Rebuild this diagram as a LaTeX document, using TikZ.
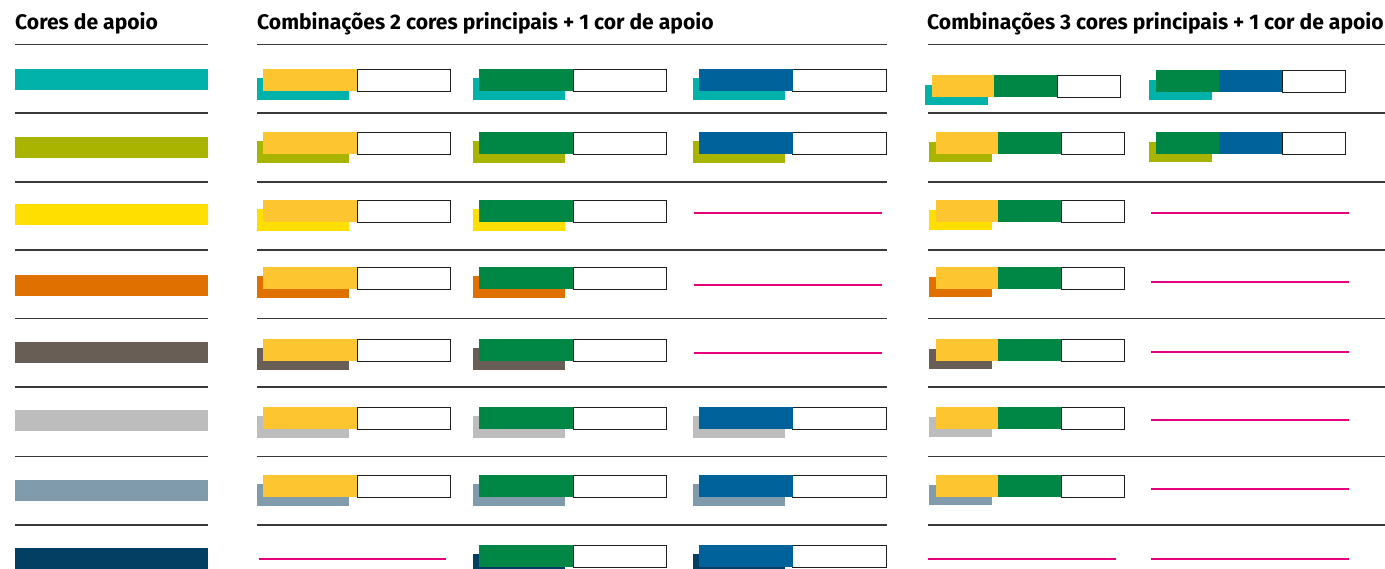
\documentclass[tikz,border=0pt]{standalone}
\usepackage{fontspec}
\setmainfont{Fira Sans}
\definecolor{cteal}{HTML}{00B2A9}
\definecolor{colive}{HTML}{A8B400}
\definecolor{cyel}{HTML}{FFDF00}
\definecolor{corange}{HTML}{E07000}
\definecolor{cbrown}{HTML}{685E55}
\definecolor{clgrey}{HTML}{BDBDBD}
\definecolor{cgblue}{HTML}{7F9BAC}
\definecolor{cnavy}{HTML}{023F63}
\definecolor{cgold}{HTML}{FDC530}
\definecolor{cgreen}{HTML}{008745}
\definecolor{cblue}{HTML}{00629B}
\definecolor{cpink}{HTML}{E6007E}
\definecolor{crule}{HTML}{3A3A3A}
\definecolor{cbox}{HTML}{1E1E1E}
\newcommand\midgrp[4]{%
  \fill[#4] ({#1-6},{#2+8.5}) rectangle ({#1+86},{#2+30.5});
  \draw[wbox] ({#1+94},{#2}) rectangle ({#1+187.5},{#2+22});
  \fill[#3] (#1,#2) rectangle ({#1+94},{#2+22});
}
\newcommand\rgtD[3]{%
  \fill[#3] ({#1-7},{#2+9.5}) rectangle ({#1+56},{#2+30});
  \draw[wbox] ({#1+125},{#2}) rectangle ({#1+188},{#2+22});
  \fill[cgold] (#1,#2) rectangle ({#1+62},{#2+22});
  \fill[cgreen] ({#1+62},#2) rectangle ({#1+125},{#2+22});
}
\newcommand\rgtE[3]{%
  \fill[#3] ({#1-7},{#2+10}) rectangle ({#1+56},{#2+30});
  \draw[wbox] ({#1+126},{#2}) rectangle ({#1+189},{#2+22});
  \fill[cgreen] (#1,#2) rectangle ({#1+63},{#2+22});
  \fill[cblue] ({#1+63},#2) rectangle ({#1+126},{#2+22});
}
\begin{document}
\begin{tikzpicture}[x=1pt,y=-1pt,
  rulel/.style={draw=crule,line width=1.2pt},
  wbox/.style={draw=cbox,fill=white,line width=0.9pt},
  pinkl/.style={draw=cpink,line width=1.5pt},
  head/.style={font=\bfseries\fontsize{21.1}{25}\selectfont,anchor=base west,inner sep=0pt}]
\useasboundingbox (0,0) rectangle (1385,568);
% headers
\node[head] (h1) at (15,29) {Cores de apoio};
\node[head] (h2) at (257,29) {Combinações 2 cores principais + 1 cor de apoio};
\node[head] (h3) at (927,29) {Combinações 3 cores principais + 1 cor de apoio};
% rules
\foreach \y in {44.5,113,182,250,318.5,387,456.5,525}{
  \draw[rulel] (15,\y) -- (208,\y);
  \draw[rulel] (257,\y) -- (887,\y);
  \draw[rulel] (928,\y) -- (1385,\y);
}
% left swatches
\fill[cteal] (15,69) rectangle (208,90);
\fill[colive] (15,137) rectangle (208,158);
\fill[cyel] (15,204) rectangle (208,225);
\fill[corange] (15,275) rectangle (208,296);
\fill[cbrown] (15,342) rectangle (208,363);
\fill[clgrey] (15,410) rectangle (208,431);
\fill[cgblue] (15,480) rectangle (208,501);
\fill[cnavy] (15,548) rectangle (208,569);
% middle column
\midgrp{263}{69}{cgold}{cteal}
\midgrp{479}{69}{cgreen}{cteal}
\midgrp{698.5}{69}{cblue}{cteal}
\midgrp{263}{132}{cgold}{colive}
\midgrp{479}{132}{cgreen}{colive}
\midgrp{698.5}{132}{cblue}{colive}
\midgrp{263}{200}{cgold}{cyel}
\midgrp{479}{200}{cgreen}{cyel}
\draw[pinkl] (694,213) -- (882,213);
\midgrp{263}{267}{cgold}{corange}
\midgrp{479}{267}{cgreen}{corange}
\draw[pinkl] (694,285) -- (882,285);
\midgrp{263}{339}{cgold}{cbrown}
\midgrp{479}{339}{cgreen}{cbrown}
\draw[pinkl] (694,353) -- (882,353);
\midgrp{263}{407}{cgold}{clgrey}
\midgrp{479}{407}{cgreen}{clgrey}
\midgrp{698.5}{407}{cblue}{clgrey}
\midgrp{263}{475}{cgold}{cgblue}
\midgrp{479}{475}{cgreen}{cgblue}
\midgrp{698.5}{475}{cblue}{cgblue}
\draw[pinkl] (259,559) -- (446,559);
\midgrp{479}{545}{cgreen}{cnavy}
\midgrp{698.5}{545}{cblue}{cnavy}
% right column
\rgtD{932}{75}{cteal}
\rgtE{1156}{70}{cteal}
\rgtD{936}{132}{colive}
\rgtE{1156}{132}{colive}
\rgtD{936}{200}{cyel}
\draw[pinkl] (1151,213) -- (1349,213);
\rgtD{936}{267}{corange}
\draw[pinkl] (1151,282) -- (1349,282);
\rgtD{936}{339}{cbrown}
\draw[pinkl] (1151,352) -- (1349,352);
\rgtD{936}{407}{clgrey}
\draw[pinkl] (1151,420) -- (1349,420);
\rgtD{936}{475}{cgblue}
\draw[pinkl] (1151,489) -- (1349,489);
\draw[pinkl] (928,559) -- (1116,559);
\draw[pinkl] (1151,559) -- (1349,559);
\end{tikzpicture}
\end{document}
